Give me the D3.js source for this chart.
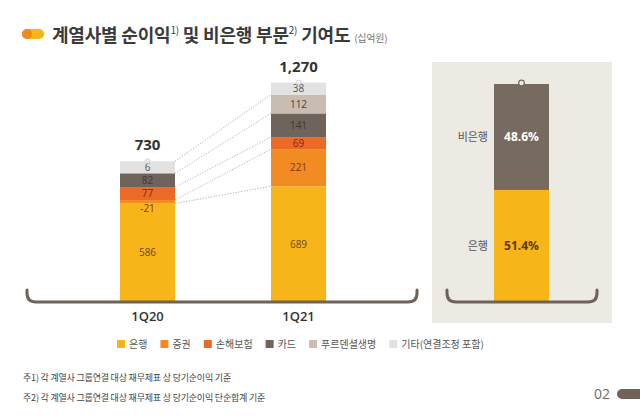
<!DOCTYPE html>
<html><head><meta charset="utf-8">
<script src="https://cdn.jsdelivr.net/npm/d3@7"></script>
<style>
html,body{margin:0;padding:0;background:#fff;}
svg{display:block;font-family:"Noto Sans CJK KR","Noto Sans",sans-serif;}
</style></head>
<body><svg id="c" width="640" height="418"></svg>
<script>
// ---- data ----
const categories = ["1Q20", "1Q21"];
const seriesNames = ["은행", "증권", "손해보험", "카드", "푸르덴셜생명", "기타(연결조정 포함)"];
const bankVals = [586, 689];
const secVals = [-21, 221];
const insVals = [77, 69];
const cardVals = [82, 141];
const lifeVals = [0, 112];
const etcVals = [6, 38];
const totals = [730, 1270];
const shareNames = ["은행", "비은행"];
const shareVals = [51.4, 48.6];
const footnotes = ["주1) 각 계열사 그룹연결 대상 재무제표 상 당기순이익 기준",
                   "주2) 각 계열사 그룹연결 대상 재무제표 상 당기순이익 단순합계 기준"];
// connectors: top of series i in 1Q20 -> top of series j in 1Q21
const connectorPairs = [[0,0],[1,1],[2,2],[3,3],[5,4]];

const seriesVals = [bankVals, secVals, insVals, cardVals, lifeVals, etcVals];
const colors = ["#F7B519", "#F38B23", "#EC6A28", "#6F645B", "#C8BDB0", "#E2E2E2"];
const labelColors = ["#6b4a1c", "#7a3a10", "#84280c", "#3f3a36", "#4c4239", "#555"];

const svg = d3.select("#c");
const baseY = 302;

// ---- title ----
svg.append("rect").attr("x",22).attr("y",29).attr("width",22).attr("height",10).attr("rx",5).attr("fill","#F7B519");
svg.append("circle").attr("cx",27).attr("cy",34).attr("r",5).attr("fill","#F08A1E");
const title = svg.append("text").attr("x",52).attr("y",42).attr("fill","#3a3a3a")
  .attr("font-weight",700).attr("font-size",18).attr("letter-spacing",-0.2);
title.append("tspan").text("계열사별 순이익");
title.append("tspan").attr("font-size",10).attr("dy",-8).attr("font-weight",400).text("1)");
title.append("tspan").attr("dy",8).text(" 및 비은행 부문");
title.append("tspan").attr("font-size",10).attr("dy",-8).attr("font-weight",400).text("2)");
title.append("tspan").attr("dy",8).text(" 기여도 ");
title.append("tspan").attr("font-size",10).attr("font-weight",400).attr("fill","#777").text("(십억원)");

// ---- left stacked chart ----
const x = d3.scalePoint().domain(categories).range([147.5, 298.5]);
const barW = 55;
const y = d3.scaleLinear().domain([0, 1270]).range([baseY, baseY - 213.4]);
const MIN_H = 12;

const stacks = categories.map((c, ci) => {
  let cur = baseY;
  return seriesVals.map((vals, si) => {
    const v = vals[ci];
    let h = y(0) - y(Math.abs(v));
    if (v > 0) h = Math.max(h, MIN_H);
    const seg = {c, ci, si, v, y1: cur, y0: cur - h};
    cur -= h;
    return seg;
  });
});

// connectors
const conn = svg.append("g");
connectorPairs.forEach(([a, b]) => {
  const s0 = stacks[0][a], s1 = stacks[1][b];
  conn.append("line")
    .attr("x1", x(categories[0]) + barW/2).attr("y1", s0.y0)
    .attr("x2", x(categories[1]) - barW/2).attr("y2", s1.y0)
    .attr("stroke","#a8a8a8").attr("stroke-width",0.9).attr("stroke-dasharray","1.2,1.6");
});

const bars = svg.append("g");
stacks.forEach(st => {
  st.forEach(s => {
    if (s.v === 0) return;
    bars.append("rect").attr("x", x(s.c) - barW/2).attr("width", barW)
      .attr("y", s.y0).attr("height", s.y1 - s.y0).attr("fill", colors[s.si]);
  });
});
stacks.forEach(st => {
  st.forEach(s => {
    if (s.v === 0) return;
    const cy = s.v < 0 ? s.y1 + 5 : (s.y0 + s.y1)/2;
    bars.append("text").attr("x", x(s.c)).attr("y", cy).attr("dy","0.36em")
      .attr("text-anchor","middle").attr("font-family","'Open Sans','Noto Sans',sans-serif")
      .attr("font-size",10).attr("fill", labelColors[s.si]).text(s.v);
  });
  const top = st[st.length-1].y0;
  svg.append("circle").attr("cx", x(st[0].c)).attr("cy", top).attr("r",2.5)
    .attr("fill","none").attr("stroke","#d0d0d0").attr("stroke-width",1);
});
// totals
categories.forEach((c, ci) => {
  const top = stacks[ci][stacks[ci].length-1].y0;
  svg.append("text").attr("x", x(c)).attr("y", top - 11).attr("text-anchor","middle")
    .attr("font-family","'Open Sans','Noto Sans',sans-serif").attr("font-weight",700)
    .attr("font-size",15).attr("fill","#333").text(d3.format(",")(totals[ci]));
  svg.append("text").attr("x", x(c)).attr("y", 321).attr("text-anchor","middle")
    .attr("font-family","'Open Sans','Noto Sans',sans-serif").attr("font-weight",600)
    .attr("font-size",13).attr("fill","#333").text(c);
});

function tray(x0, x1, yTop, yBot, r) {
  return `M${x0},${yTop} L${x0},${yBot-r} Q${x0},${yBot} ${x0+r},${yBot} L${x1-r},${yBot} Q${x1},${yBot} ${x1},${yBot-r} L${x1},${yTop}`;
}
svg.append("path").attr("d", tray(27, 417, 290, baseY, 9)).attr("fill","none")
  .attr("stroke","#6E6259").attr("stroke-width",3).attr("stroke-linecap","round");

// ---- right share panel ----
svg.append("rect").attr("x",432).attr("y",62).attr("width",180).attr("height",261).attr("fill","#EDE9E3");
const yS = d3.scaleLinear().domain([0, 100]).range([baseY, 84]);
const shareColors = ["#F7B519", "#776A60"];
const shareLabelColors = ["#5a3a0e", "#ffffff"];
const sx = 521.5, sw = 55;
let acc = 0;
shareVals.forEach((v, i) => {
  const yTop = yS(acc + v), yBot = yS(acc);
  svg.append("rect").attr("x", sx - sw/2).attr("width", sw).attr("y", yTop).attr("height", yBot - yTop)
    .attr("fill", shareColors[i]);
  const cy = (yTop + yBot)/2;
  svg.append("text").attr("x", sx).attr("y", cy).attr("dy","0.36em").attr("text-anchor","middle")
    .attr("font-family","'Open Sans','Noto Sans',sans-serif").attr("font-weight",700)
    .attr("font-size",12).attr("fill", shareLabelColors[i]).text(v.toFixed(1) + "%");
  svg.append("text").attr("x", 488).attr("y", cy).attr("dy","0.36em").attr("text-anchor","end")
    .attr("font-size",11).attr("fill","#555").text(shareNames[i]);
  acc += v;
});
svg.append("circle").attr("cx", sx).attr("cy", yS(100) - 1).attr("r",2.8)
  .attr("fill","#EDE9E3").attr("stroke","#776A60").attr("stroke-width",1.2);
svg.append("path").attr("d", tray(447, 597, 290, baseY, 9)).attr("fill","none")
  .attr("stroke","#6E6259").attr("stroke-width",3).attr("stroke-linecap","round");

// ---- legend ----
const leg = svg.append("g");
let lx = 117;
seriesNames.forEach((n, i) => {
  leg.append("rect").attr("x", lx).attr("y", 340).attr("width",8).attr("height",8).attr("fill", colors[i]);
  const t = leg.append("text").attr("x", lx + 12).attr("y", 344).attr("dy","0.36em")
    .attr("font-size",10).attr("fill","#555").text(n);
  lx += 12 + t.node().getComputedTextLength() + 13;
});

// ---- footnotes ----
footnotes.forEach((f, i) => {
  svg.append("text").attr("x", 23).attr("y", 381 + i*20).attr("font-size",9)
    .attr("letter-spacing",-0.2).attr("fill","#444").text(f);
});

// ---- page number ----
svg.append("text").attr("x", 610).attr("y", 399).attr("text-anchor","end")
  .attr("font-family","'Open Sans','Noto Sans',sans-serif").attr("font-size",14).attr("fill","#6b6b6b").text("02");
svg.append("rect").attr("x",617).attr("y",389).attr("width",40).attr("height",10).attr("rx",5).attr("fill","#6E6259");
</script></body></html>
